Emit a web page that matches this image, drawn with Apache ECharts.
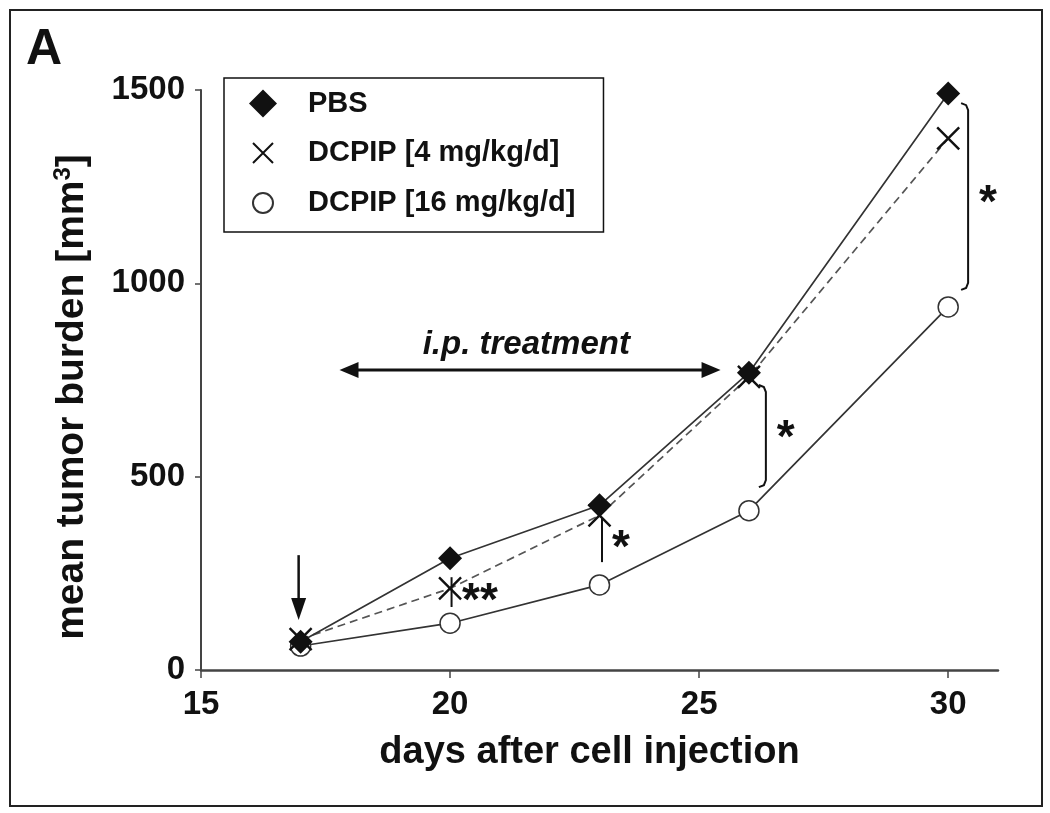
<!DOCTYPE html>
<html><head><meta charset="utf-8">
<script src="https://cdn.jsdelivr.net/npm/echarts@6/dist/echarts.min.js"></script>
<style>html,body{margin:0;padding:0;background:#fff}#c{width:1050px;height:813px}</style>
</head><body><div id="c"></div>
<script>
// ---- data ----
const days = [17, 20, 23, 26, 30];
const pbs = [73, 289, 426, 769, 1491];
const dcpip4 = [80, 211, 400, 758, 1375];
const dcpip16 = [62, 121, 220, 412, 939];
const xTicks = [15, 20, 25, 30];
const yTicks = [0, 500, 1000, 1500];
const seriesNames = ['PBS', 'DCPIP [4 mg/kg/d]', 'DCPIP [16 mg/kg/d]'];
const panelLabel = 'A';
const treatmentLabel = 'i.p. treatment';
const xName = 'days after cell injection';

const FONT = '"Liberation Sans", Arial, Helvetica, sans-serif';
const INK = '#111';
const LINE = '#333';

const pairs = (ys) => days.map((d, i) => [d, ys[i]]);

const option = {
  animation: false,
  backgroundColor: '#fff',
  textStyle: { fontFamily: FONT },
  grid: { left: 201, right: 52, top: 90, bottom: 143, containLabel: false },
  legend: {
    orient: 'vertical', left: 224, top: 78,
    padding: [11, 28, 14, 24],
    borderColor: INK, borderWidth: 1.5,
    itemWidth: 28, itemHeight: 28, itemGap: 20,
    textStyle: { fontFamily: FONT, fontWeight: 'bold', fontSize: 29, color: INK, padding: [0, 0, 0, 26] },
    data: [
      { name: seriesNames[0], icon: 'diamond' },
      { name: seriesNames[1], icon: 'path://M0,0M28,28M4,4L24,24M24,4L4,24' },
      { name: seriesNames[2], icon: 'path://M0,0M28,28M14,4A10,10,0,1,1,13.99,4Z' }
    ]
  },
  xAxis: {
    type: 'value', min: 15, max: 31, interval: 5,
    name: xName, nameLocation: 'middle', nameGap: 64,
    nameTextStyle: { fontFamily: FONT, fontWeight: 'bold', fontSize: 38, color: INK, padding: [0, 20, 0, 0] },
    axisLine: { show: true, onZero: false, lineStyle: { color: '#444', width: 2.5 } },
    axisTick: { show: true, length: 8, customValues: xTicks, lineStyle: { color: '#444', width: 1.5 } },
    axisLabel: { customValues: xTicks, margin: 18, fontFamily: FONT, fontWeight: 'bold', fontSize: 33, color: INK, formatter: (v) => String(v) },
    splitLine: { show: false }
  },
  yAxis: {
    type: 'value', min: 0, max: 1500, interval: 500,
    name: 'mean tumor burden [mm{s|3}]', nameLocation: 'middle', nameRotate: 90, nameGap: 108,
    nameTextStyle: {
      fontFamily: FONT, fontWeight: 'bold', fontSize: 39, color: INK, padding: [0, 34, 0, 0],
      rich: { s: { fontFamily: FONT, fontWeight: 'bold', fontSize: 24, color: INK, padding: [0, 0, 18, 0] } }
    },
    axisLine: { show: true, lineStyle: { color: '#444', width: 2 } },
    axisTick: { show: true, length: 6, customValues: yTicks, lineStyle: { color: '#444', width: 1.5 } },
    axisLabel: { customValues: yTicks, margin: 16, fontFamily: FONT, fontWeight: 'bold', fontSize: 33, color: INK, formatter: (v) => String(v) },
    splitLine: { show: false }
  },
  series: [
    {
      name: seriesNames[0], type: 'line', data: pairs(pbs), z: 4,
      symbol: 'diamond', symbolSize: 24,
      lineStyle: { color: LINE, width: 1.7 },
      itemStyle: { color: INK, borderColor: INK, borderWidth: 0 }
    },
    {
      name: seriesNames[1], type: 'line', data: pairs(dcpip4), z: 3,
      symbol: 'path://M0,0L20,20M20,0L0,20', symbolSize: 22,
      lineStyle: { color: '#555', width: 1.7, type: [8, 5] },
      itemStyle: { color: 'rgba(0,0,0,0)', borderColor: INK, borderWidth: 2.4 }
    },
    {
      name: seriesNames[2], type: 'line', data: pairs(dcpip16), z: 2,
      symbol: 'circle', symbolSize: 20,
      lineStyle: { color: LINE, width: 1.7 },
      itemStyle: { color: '#fff', borderColor: '#333', borderWidth: 1.5 }
    }
  ]
};

const chart = echarts.init(document.getElementById('c'), null, { renderer: 'canvas' });
chart.setOption(option);

const P = (x, y) => chart.convertToPixel({ gridIndex: 0 }, [x, y]);
const g = [];
// outer frame
g.push({ type: 'rect', shape: { x: 10, y: 10, width: 1032, height: 796 }, style: { fill: 'none', stroke: '#222', lineWidth: 2 }, z: 0 });
// panel letter
g.push({ type: 'text', x: 26, y: 25, style: { text: panelLabel, font: 'bold 50px ' + FONT, fill: INK } });

// treatment double arrow (data space)
const a1 = P(17.78, 776), a2 = P(25.43, 776);
g.push({ type: 'line', shape: { x1: a1[0] + 10, y1: a1[1], x2: a2[0] - 10, y2: a2[1] }, style: { stroke: INK, lineWidth: 3 } });
g.push({ type: 'polygon', shape: { points: [[a1[0], a1[1]], [a1[0] + 19, a1[1] - 8], [a1[0] + 19, a1[1] + 8]] }, style: { fill: INK } });
g.push({ type: 'polygon', shape: { points: [[a2[0], a2[1]], [a2[0] - 19, a2[1] - 8], [a2[0] - 19, a2[1] + 8]] }, style: { fill: INK } });
const tl = P(21.53, 840);
g.push({ type: 'text', x: tl[0], y: tl[1], style: { text: treatmentLabel, font: 'italic bold 33px ' + FONT, fill: INK, align: 'center', verticalAlign: 'middle' } });

// injection arrow
const d1 = P(16.96, 297), d2 = P(16.96, 129);
g.push({ type: 'line', shape: { x1: d1[0], y1: d1[1], x2: d2[0], y2: d2[1] - 16 }, style: { stroke: INK, lineWidth: 2.5 } });
g.push({ type: 'polygon', shape: { points: [[d2[0], d2[1]], [d2[0] - 7.5, d2[1] - 22], [d2[0] + 7.5, d2[1] - 22]] }, style: { fill: INK } });

// significance marks
function vbar(x, y1, y2) {
  const p1 = P(x, y1), p2 = P(x, y2);
  g.push({ type: 'line', shape: { x1: p1[0], y1: p1[1], x2: p2[0], y2: p2[1] }, style: { stroke: INK, lineWidth: 2 } });
}
function bracket(x, y1, y2) {
  const p1 = P(x, y1), p2 = P(x, y2);
  const X = p1[0];
  g.push({ type: 'polyline', shape: { points: [[X - 7, p1[1]], [X - 2, p1[1] + 2], [X, p1[1] + 7], [X, p2[1] - 7], [X - 2, p2[1] - 2], [X - 7, p2[1]]] }, style: { stroke: INK, lineWidth: 2, fill: 'none' } });
}
function star(x, y, txt) {
  const p = P(x, y);
  g.push({ type: 'text', x: p[0], y: p[1] + 9, style: { text: txt, font: 'bold 46px ' + FONT, fill: INK, align: 'center', verticalAlign: 'middle' } });
}
vbar(20.03, 240, 163); star(20.6, 199, '**');
vbar(23.05, 393, 279); star(23.43, 336, '*');
bracket(26.34, 737, 473); star(26.74, 621, '*');
bracket(30.40, 1466, 983); star(30.80, 1228, '*');

chart.setOption({ graphic: g });
</script>
</body></html>
